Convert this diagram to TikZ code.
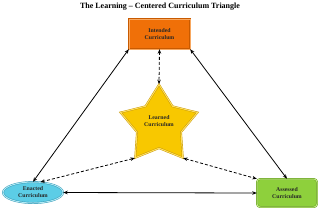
\documentclass[tikz,border=0pt]{standalone}
\usepackage{fontspec}
\setmainfont{Liberation Serif}
\usetikzlibrary{shapes.geometric,arrows.meta}
\definecolor{orangeF}{HTML}{F07008}
\definecolor{orangeL}{HTML}{F8A860}
\definecolor{orangeD}{HTML}{C85A00}
\definecolor{greenF}{HTML}{8ED03C}
\definecolor{greenL}{HTML}{C0E880}
\definecolor{greenD}{HTML}{5E9A18}
\definecolor{cyanF}{HTML}{5CCDE6}
\definecolor{cyanL}{HTML}{B0EAF5}
\definecolor{cyanD}{HTML}{2A90B0}
\definecolor{goldF}{HTML}{F8C800}
\definecolor{goldL}{HTML}{FFE060}
\definecolor{goldD}{HTML}{C09000}
\begin{document}
\begin{tikzpicture}[x=1pt,y=-1pt,
  lbl/.style={font=\fontsize{5.8}{7}\selectfont\bfseries, align=center, text=black!85},
  titlestyle/.style={font=\fontsize{8}{9}\selectfont\bfseries},
  intbox/.style={lbl, rectangle, fill=orangeF, draw=orangeD, double=orangeL, double distance=1pt, minimum width=61pt, minimum height=30pt, inner sep=0pt},
  assbox/.style={lbl, rectangle, rounded corners=3pt, fill=greenF, draw=greenD, double=greenL, double distance=1pt, minimum width=60pt, minimum height=28pt, inner sep=0pt},
  ellnode/.style={lbl, ellipse, fill=cyanF, draw=cyanD, double=cyanL, double distance=1pt, minimum width=60pt, minimum height=21pt, inner sep=0pt},
  starnode/.style={lbl, star, star points=5, star point ratio=1.75, fill=goldF, draw=goldD, double=goldL, double distance=1pt, minimum size=81pt, inner sep=0pt},
  link/.style={line width=0.8pt, {Stealth[length=4.5pt,width=3.5pt]}-{Stealth[length=4.5pt,width=3.5pt]}},
  dlink/.style={link, dash pattern=on 3pt off 2pt}
]
\useasboundingbox (0,0) rectangle (320,210);
\node[titlestyle] (title) at (160,7) {The Learning -- Centered Curriculum Triangle};
\node[intbox] (int) at (159.5,34) {Intended\\Curriculum};
\node[starnode] (star) at (159,125) {};
\node[lbl] (starlbl) at (159,121) {Learned\\Curriculum};
\node[ellnode] (ena) at (33,192.5) {Enacted\\Curriculum};
\node[assbox] (ass) at (287,193) {Assessed\\Curriculum};
\draw[link] (int.south west) -- (ena.north);
\draw[link] (int.south east) -- (ass.north);
\draw[link] (ena.east) -- (ass.west);
\draw[dlink] (int.south) -- (star.outer point 1);
\draw[dlink] (star.outer point 3) -- (ena.55);
\draw[dlink] (star.outer point 4) -- (ass.north west);
\end{tikzpicture}
\end{document}
